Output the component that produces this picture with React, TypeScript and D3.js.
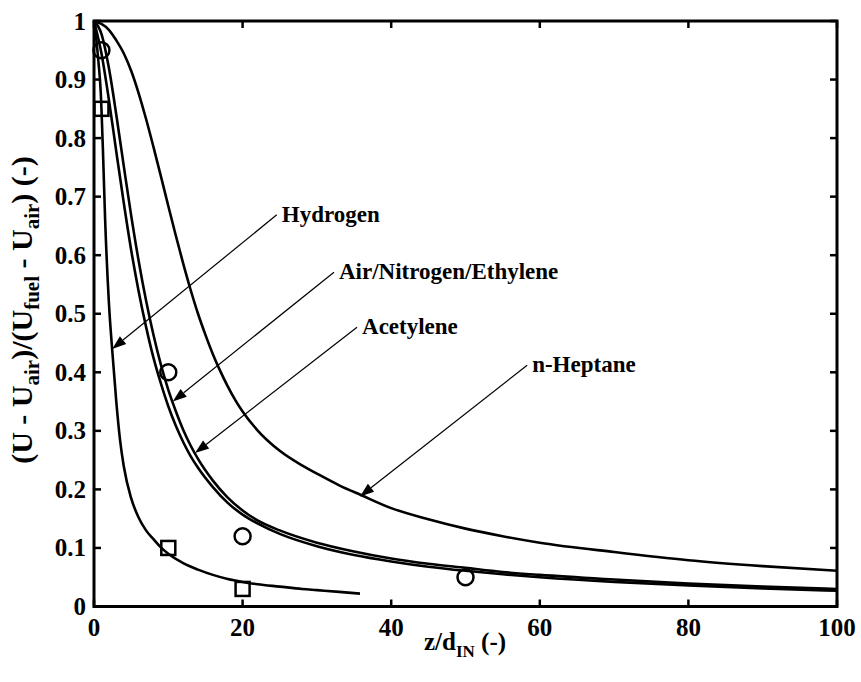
import React from "react";
import * as d3 from "d3";

// Axis ticks
const xTicks = [0, 20, 40, 60, 80, 100];
const yTicks = [0, 0.1, 0.2, 0.3, 0.4, 0.5, 0.6, 0.7, 0.8, 0.9, 1];
const yTickLabels = ["0", "0.1", "0.2", "0.3", "0.4", "0.5", "0.6", "0.7", "0.8", "0.9", "1"];

// Centreline velocity decay, simulated
const hydrogenX = [0, 0.3, 0.6, 0.9, 1.2, 1.5, 2, 2.5, 3, 3.5, 4, 5, 6, 7, 8, 9, 10, 12, 14, 16, 18, 20, 22, 25, 28, 30, 33, 35.8];
const hydrogenY = [1, 0.97, 0.93, 0.88, 0.78, 0.66, 0.52, 0.43, 0.35, 0.285, 0.24, 0.185, 0.152, 0.13, 0.115, 0.101, 0.09, 0.074, 0.063, 0.054, 0.047, 0.042, 0.038, 0.034, 0.03, 0.028, 0.025, 0.022];

const airX = [0, 1, 2, 3, 4, 5, 6, 7, 8, 9, 10, 11, 12, 13, 14, 16, 18, 20, 22, 25, 30, 35, 40, 45, 50, 55, 60, 70, 80, 90, 100];
const airY = [1, 0.945, 0.866, 0.777, 0.69, 0.609, 0.539, 0.478, 0.425, 0.381, 0.342, 0.309, 0.281, 0.257, 0.237, 0.204, 0.177, 0.157, 0.142, 0.124, 0.103, 0.088, 0.077, 0.068, 0.061, 0.055, 0.05, 0.042, 0.036, 0.031, 0.027];

const acetyleneX = [0, 1, 2, 3, 4, 5, 6, 7, 8, 9, 10, 11, 12, 13, 14, 16, 18, 20, 22, 25, 30, 35, 40, 45, 50, 55, 60, 70, 80, 90, 100];
const acetyleneY = [1, 0.978, 0.92, 0.84, 0.753, 0.668, 0.591, 0.523, 0.464, 0.413, 0.37, 0.334, 0.302, 0.275, 0.252, 0.215, 0.186, 0.164, 0.147, 0.13, 0.109, 0.094, 0.082, 0.073, 0.066, 0.059, 0.054, 0.046, 0.039, 0.034, 0.03];

const heptaneX = [0, 1, 2, 3, 4, 5, 6, 7, 8, 9, 10, 11, 12, 13, 14, 15, 16, 17, 18, 19, 20, 22, 25, 28, 30, 33, 36, 40, 45, 50, 55, 60, 70, 80, 90, 100];
const heptaneY = [1, 0.995, 0.985, 0.967, 0.945, 0.915, 0.877, 0.833, 0.785, 0.735, 0.684, 0.634, 0.586, 0.541, 0.5, 0.464, 0.431, 0.402, 0.376, 0.353, 0.333, 0.301, 0.266, 0.241, 0.227, 0.207, 0.19, 0.168, 0.149, 0.133, 0.12, 0.109, 0.093, 0.079, 0.069, 0.061];

// Measurements
const circleX = [1, 10, 20, 50];
const circleY = [0.95, 0.4, 0.12, 0.05];
const squareX = [1, 10, 20];
const squareY = [0.85, 0.1, 0.03];

// Annotations: label text, where the leader starts, where its arrow points
const labelTexts = ["Hydrogen", "Air/Nitrogen/Ethylene", "Acetylene", "n-Heptane"];
const labelStartX = [24.6, 32.3, 35.4, 58.3];
const labelStartY = [0.669, 0.571, 0.477, 0.412];
const arrowTipX = [2.45, 10.6, 13.6, 35.8];
const arrowTipY = [0.44, 0.35, 0.262, 0.188];

const W = 861;
const H = 682;
const M = { left: 94, right: 24, top: 21, bottom: 75.5 };
const FONT = "'Liberation Serif', 'Times New Roman', serif";

export default function App() {
  const x = d3.scaleLinear().domain([0, 100]).range([M.left, W - M.right]);
  const y = d3.scaleLinear().domain([0, 1]).range([H - M.bottom, M.top]);

  const line = d3
    .line<[number, number]>()
    .x((d) => x(d[0]))
    .y((d) => y(d[1]))
    .curve(d3.curveMonotoneX);

  const series: [number[], number[]][] = [
    [hydrogenX, hydrogenY],
    [airX, airY],
    [acetyleneX, acetyleneY],
    [heptaneX, heptaneY],
  ];

  const x0 = x(0), x1 = x(100), y0 = y(0), y1 = y(1);
  const tickLen = 7;

  const arrows = labelTexts.map((t, i) => {
    const sx = x(labelStartX[i]);
    const sy = y(labelStartY[i]);
    const tx = x(arrowTipX[i]);
    const ty = y(arrowTipY[i]);
    const dx = tx - sx;
    const dy = ty - sy;
    const len = Math.hypot(dx, dy);
    const ux = dx / len;
    const uy = dy / len;
    const hl = 14;
    const hw = 5;
    const bx = tx - ux * hl;
    const by = ty - uy * hl;
    const head = `${tx},${ty} ${bx - uy * hw},${by + ux * hw} ${bx + uy * hw},${by - ux * hw}`;
    return { t, sx, sy, tx, ty, bx, by, head };
  });

  return (
    <svg
      width={W}
      height={H}
      style={{ position: "absolute", left: 0, top: 0, background: "#fff" }}
      fontFamily={FONT}
      fontWeight="bold"
    >
      <rect width={W} height={H} fill="#fff" />

      {/* curves */}
      {series.map(([xs, ys], i) => (
        <path
          key={i}
          d={line(xs.map((v, j) => [v, ys[j]] as [number, number])) || ""}
          fill="none"
          stroke="#000"
          strokeWidth={2.6}
          strokeLinejoin="round"
        />
      ))}

      {/* measured points */}
      {circleX.map((v, i) => (
        <circle key={"c" + i} cx={x(v)} cy={y(circleY[i])} r={8} fill="none" stroke="#000" strokeWidth={2.5} />
      ))}
      {squareX.map((v, i) => (
        <rect key={"s" + i} x={x(v) - 7} y={y(squareY[i]) - 7} width={14} height={14} fill="none" stroke="#000" strokeWidth={2.5} />
      ))}

      {/* leaders and labels */}
      {arrows.map((a, i) => (
        <g key={"a" + i}>
          <line x1={a.sx} y1={a.sy} x2={a.bx} y2={a.by} stroke="#000" strokeWidth={1.2} />
          <polygon points={a.head} fill="#000" />
          <text x={a.sx + 5} y={a.sy + 7} fontSize={23}>
            {a.t}
          </text>
        </g>
      ))}

      {/* box */}
      <rect x={x0} y={y1} width={x1 - x0} height={y0 - y1} fill="none" stroke="#000" strokeWidth={3} />

      {/* ticks */}
      {xTicks.map((t) => (
        <g key={"xt" + t}>
          <line x1={x(t)} x2={x(t)} y1={y0} y2={y0 - tickLen} stroke="#000" strokeWidth={2.5} />
          <line x1={x(t)} x2={x(t)} y1={y1} y2={y1 + tickLen} stroke="#000" strokeWidth={2.5} />
          <text x={x(t)} y={y0 + 29} textAnchor="middle" fontSize={25}>
            {t}
          </text>
        </g>
      ))}
      {yTicks.map((t, i) => (
        <g key={"yt" + t}>
          <line x1={x0} x2={x0 + tickLen} y1={y(t)} y2={y(t)} stroke="#000" strokeWidth={2.5} />
          <line x1={x1} x2={x1 - tickLen} y1={y(t)} y2={y(t)} stroke="#000" strokeWidth={2.5} />
          <text x={x0 - 8} y={y(t) + 8.5} textAnchor="end" fontSize={25}>
            {yTickLabels[i]}
          </text>
        </g>
      ))}

      {/* axis titles */}
      <text x={465} y={H - 32} textAnchor="middle" fontSize={25}>
        z/d
        <tspan fontSize={17} dy={7}>IN</tspan>
        <tspan dy={-7}> (-)</tspan>
      </text>
      <text transform="translate(32, 310) rotate(-90)" textAnchor="middle" fontSize={30}>
        (U - U
        <tspan fontSize={21} dy={7}>air</tspan>
        <tspan dy={-7}>)/(U</tspan>
        <tspan fontSize={21} dy={7}>fuel</tspan>
        <tspan dy={-7}> - U</tspan>
        <tspan fontSize={21} dy={7}>air</tspan>
        <tspan dy={-7}>) (-)</tspan>
      </text>
    </svg>
  );
}
